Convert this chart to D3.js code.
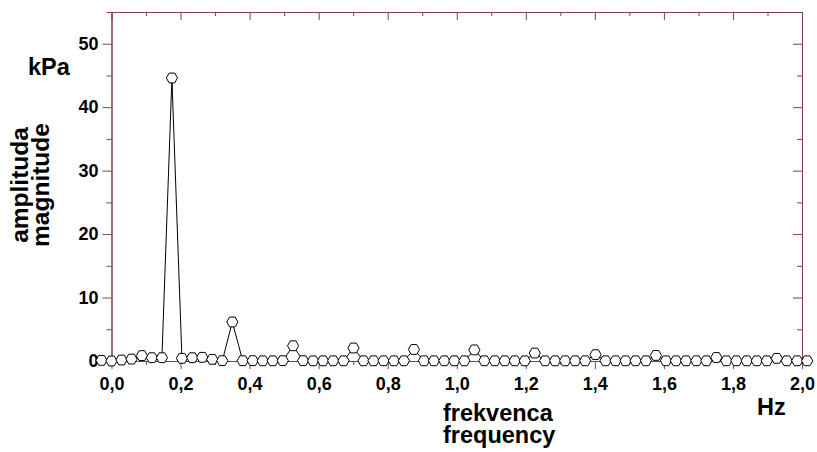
<!DOCTYPE html>
<html>
<head>
<meta charset="utf-8">
<script src="https://cdn.jsdelivr.net/npm/d3@7"></script>
<style>
  html, body { margin: 0; padding: 0; background: #fff; }
  svg { display: block; }
  text { font-family: "Liberation Sans", Arial, sans-serif; font-weight: bold; fill: #000; }
</style>
</head>
<body>
<svg id="chart" width="817" height="452"></svg>
<script>
// ---- data ----
const frequency = [
  -0.029, 0.000, 0.029, 0.058, 0.088, 0.117, 0.146, 0.175, 0.204, 0.234,
  0.263, 0.292, 0.321, 0.350, 0.380, 0.409, 0.438, 0.467, 0.496, 0.526,
  0.555, 0.584, 0.613, 0.642, 0.672, 0.701, 0.730, 0.759, 0.788, 0.818,
  0.847, 0.876, 0.905, 0.934, 0.964, 0.993, 1.022, 1.051, 1.080, 1.110,
  1.139, 1.168, 1.197, 1.226, 1.256, 1.285, 1.314, 1.343, 1.372, 1.402,
  1.431, 1.460, 1.489, 1.518, 1.548, 1.577, 1.606, 1.635, 1.664, 1.694,
  1.723, 1.752, 1.781, 1.810, 1.840, 1.869, 1.898, 1.927, 1.956, 1.986,
  2.015
];
const amplitude = [
  0.10, 0.00, 0.16, 0.30, 0.85, 0.52, 0.52, 44.6, 0.42, 0.52,
  0.58, 0.26, 0.05, 6.15, 0.05, 0.05, 0.03, 0.03, 0.05, 2.40,
  0.05, 0.03, 0.03, 0.03, 0.03, 2.05, 0.03, 0.03, 0.03, 0.03,
  0.03, 1.82, 0.03, 0.03, 0.03, 0.03, 0.03, 1.75, 0.03, 0.03,
  0.03, 0.03, 0.03, 1.25, 0.03, 0.03, 0.03, 0.03, 0.03, 1.00,
  0.03, 0.03, 0.03, 0.03, 0.03, 0.88, 0.03, 0.03, 0.03, 0.03,
  0.03, 0.55, 0.03, 0.03, 0.03, 0.03, 0.03, 0.42, 0.03, 0.03,
  0.03
];
const xMajorTicks = [0, 0.2, 0.4, 0.6, 0.8, 1.0, 1.2, 1.4, 1.6, 1.8, 2.0];
const xMinorTicks = [0.1, 0.3, 0.5, 0.7, 0.9, 1.1, 1.3, 1.5, 1.7, 1.9];
const yMajorTicks = [0, 10, 20, 30, 40, 50];
const yMinorTicks = [5, 15, 25, 35, 45, 55];
const yTitleLines = ["amplituda", "magnitude"];
const xTitleLines = ["frekvenca", "frequency"];
const yUnit = "kPa";
const xUnit = "Hz";

// ---- layout ----
const svg = d3.select("#chart");
const plotL = 111.5, plotR = 802, plotT = 12, plotB = 361;
const axisColor = "#804040";

const x = d3.scaleLinear().domain([0, 2]).range([plotL, plotR]);
const y = d3.scaleLinear().domain([0, 55]).range([plotB, plotT]);

const fmtX = d => d3.format(".1f")(d).replace(".", ",");

function styleAxis(g) {
  g.selectAll("path.domain").attr("stroke", axisColor).attr("stroke-width", 1);
  g.selectAll(".tick line").attr("stroke", axisColor).attr("stroke-width", 1);
  g.selectAll(".tick text")
    .attr("fill", "#000")
    .style("font-family", '"Liberation Sans", Arial, sans-serif')
    .style("font-weight", "bold")
    .style("font-size", "18px");
}

// bottom axis
svg.append("g").attr("transform", `translate(0,${plotB})`)
  .call(d3.axisBottom(x).tickValues(xMajorTicks).tickSize(8).tickSizeOuter(0).tickPadding(8).tickFormat(fmtX))
  .call(styleAxis);
svg.append("g").attr("transform", `translate(0,${plotB})`)
  .call(d3.axisBottom(x).tickValues(xMinorTicks).tickSize(4).tickSizeOuter(0).tickFormat(""))
  .call(styleAxis);
// top axis (ticks inward)
svg.append("g").attr("transform", `translate(0,${plotT})`)
  .call(d3.axisBottom(x).tickValues(xMajorTicks).tickSize(8).tickSizeOuter(0).tickFormat(""))
  .call(styleAxis);
svg.append("g").attr("transform", `translate(0,${plotT})`)
  .call(d3.axisBottom(x).tickValues(xMinorTicks).tickSize(4).tickSizeOuter(0).tickFormat(""))
  .call(styleAxis);
// left axis
svg.append("g").attr("transform", `translate(${plotL},0)`)
  .call(d3.axisLeft(y).tickValues(yMajorTicks).tickSize(9).tickSizeOuter(0).tickPadding(4).tickFormat(d3.format("d")))
  .call(styleAxis);
svg.append("g").attr("transform", `translate(${plotL},0)`)
  .call(d3.axisLeft(y).tickValues(yMinorTicks).tickSize(5).tickSizeOuter(0).tickFormat(""))
  .call(styleAxis);
// right axis (ticks inward)
svg.append("g").attr("transform", `translate(${plotR},0)`)
  .call(d3.axisLeft(y).tickValues(yMajorTicks).tickSize(9).tickSizeOuter(0).tickFormat(""))
  .call(styleAxis);
svg.append("g").attr("transform", `translate(${plotR},0)`)
  .call(d3.axisLeft(y).tickValues(yMinorTicks).tickSize(5).tickSizeOuter(0).tickFormat(""))
  .call(styleAxis);

// ---- series ----
const pts = frequency.map((f, i) => ({ f, a: amplitude[i] }));
const line = d3.line().x(d => x(d.f)).y(d => y(d.a));
svg.append("path").datum(pts)
  .attr("d", line)
  .attr("fill", "none")
  .attr("stroke", "#000")
  .attr("stroke-width", 1);

const hex = "M-5.6,0L-2.8,-4.9L2.8,-4.9L5.6,0L2.8,4.9L-2.8,4.9Z";
svg.append("g").selectAll("path").data(pts).join("path")
  .attr("d", hex)
  .attr("transform", d => `translate(${x(d.f)},${y(d.a)})`)
  .attr("fill", "#fff")
  .attr("stroke", "#000")
  .attr("stroke-width", 1);

// ---- titles ----
svg.append("text").attr("x", 28).attr("y", 75).style("font-size", "23.5px").text(yUnit);
svg.append("text").attr("x", 757).attr("y", 415).style("font-size", "23.5px").text(xUnit);

xTitleLines.forEach((t, i) => {
  svg.append("text").attr("x", 443).attr("y", 421 + i * 22)
    .style("font-size", "23.5px").text(t);
});
yTitleLines.forEach((t, i) => {
  svg.append("text")
    .attr("transform", `translate(${28 + i * 21},185) rotate(-90)`)
    .attr("text-anchor", "middle")
    .style("font-size", "24.5px").text(t);
});
</script>
</body>
</html>
